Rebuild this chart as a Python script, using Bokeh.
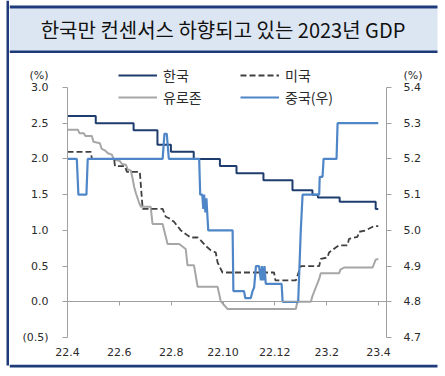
from bokeh.plotting import figure
from bokeh.layouts import row, column
from bokeh.models import (Range1d, LinearAxis, FixedTicker, CustomJSTickFormatter,
                          Legend, LegendItem, Label)
from bokeh.embed import file_html
from bokeh.resources import INLINE

# ---------------- data ----------------
title_text = "한국만 컨센서스 하향되고 있는 2023년 GDP"
unit_text = "(%)"

x_ticks = [0, 2, 4, 6, 8, 10, 12]          # months since 2022-04
x_labels = ["22.4", "22.6", "22.8", "22.10", "22.12", "23.2", "23.4"]
left_ticks = [-0.5, 0.0, 0.5, 1.0, 1.5, 2.0, 2.5, 3.0]
right_ticks = [4.7, 4.8, 4.9, 5.0, 5.1, 5.2, 5.3, 5.4]

series_names = ["한국", "미국", "유로존", "중국(우)"]

korea_x = [0, 1.09, 1.09, 2.55, 2.55, 3.47, 3.47, 3.99, 3.99, 4.87, 4.87, 5.88, 5.88,
           6.52, 6.52, 7.56, 7.56, 8.68, 8.68, 9.45, 9.45, 9.66, 9.66, 10.5, 10.5,
           11.89, 11.89, 11.99]
korea_y = [2.6, 2.6, 2.5, 2.5, 2.4, 2.4, 2.2, 2.2, 2.1, 2.1, 2.0, 2.0, 1.9,
           1.9, 1.8, 1.8, 1.7, 1.7, 1.56, 1.56, 1.5, 1.5, 1.46, 1.46, 1.4,
           1.4, 1.3, 1.3]

us_x = [0, 0.9, 0.94, 1.8, 1.83, 2.21, 2.29, 2.79, 2.9, 3.67, 3.79, 3.92, 4.11,
        4.37, 4.63, 4.76, 5.02, 5.14, 5.34, 5.53, 5.72, 5.79, 5.98, 7.97, 8.02,
        8.81, 9.0, 9.71, 9.77, 10.03, 10.09, 10.35, 10.47, 10.8, 10.86, 11.19,
        11.25, 11.51, 11.83, 11.99]
us_y = [2.1, 2.1, 2.0, 2.0, 1.9, 1.9, 1.82, 1.82, 1.3, 1.3, 1.19, 1.17, 1.12,
        1.0, 0.93, 0.9, 0.9, 0.86, 0.78, 0.72, 0.69, 0.55, 0.41, 0.41, 0.3,
        0.3, 0.5, 0.5, 0.6, 0.62, 0.69, 0.76, 0.79, 0.79, 0.88, 0.91,
        0.98, 1.0, 1.06, 1.06]

euro_x = [0, 0.4, 0.46, 0.63, 0.69, 0.94, 1.0, 1.25, 1.32, 1.44, 1.56, 1.71, 1.79,
          2.02, 2.1, 2.25, 2.33, 2.44, 2.51, 2.57, 2.64, 2.75, 2.83, 3.21, 3.28,
          3.67, 3.86, 4.31, 4.56, 4.63, 4.88, 5.02, 5.79, 5.91, 6.17, 8.81, 8.87,
          9.39, 9.45, 9.58, 9.71, 9.77, 10.48, 10.53, 10.67, 11.77, 11.89, 11.99]
euro_y = [2.41, 2.41, 2.36, 2.36, 2.32, 2.32, 2.24, 2.22, 2.14, 2.12, 2.08, 2.06, 1.99,
          1.97, 1.93, 1.92, 1.85, 1.84, 1.73, 1.61, 1.52, 1.4, 1.33, 1.33, 1.09,
          1.09, 0.81, 0.81, 0.74, 0.51, 0.51, 0.21, 0.21, 0.01, -0.1, -0.1, 0.0,
          0.0, 0.08, 0.2, 0.32, 0.4, 0.4, 0.45, 0.48, 0.48, 0.59, 0.6]

china_x = [0, 0.36, 0.42, 0.73, 0.78, 3.67, 3.74, 3.83, 3.91, 5.08, 5.12, 5.2, 5.24,
           5.27, 5.32, 5.36, 5.39, 5.43, 6.37, 6.4, 6.81, 6.86, 7.07, 7.14, 7.2,
           7.27, 7.39, 7.46, 7.5, 7.55, 7.6, 7.65, 8.26, 8.3, 8.9, 9.0, 9.07, 9.71,
           9.73, 9.84, 9.88, 10.38, 10.42, 11.99]
china_y = [5.2, 5.2, 5.1, 5.1, 5.2, 5.2, 5.27, 5.27, 5.2, 5.2, 5.1, 5.1, 5.06,
           5.1, 5.05, 5.09, 5.05, 5.0, 5.0, 4.83, 4.83, 4.81, 4.81, 4.83, 4.84,
           4.9, 4.9, 4.86, 4.9, 4.86, 4.9, 4.85, 4.85, 4.8, 4.8, 5.0, 5.1, 5.1,
           5.15, 5.15, 5.2, 5.2, 5.3, 5.3]

# ---------------- styles / layout constants (page pixels) ----------------
navy = "#1F3A7A"
box_fill = "#DCE6F2"
c_korea = "#1F3C6E"
c_us = "#404040"
c_euro = "#A6A6A6"
c_china = "#4F86C8"
axis_gray = "#A0A0A0"
txt = "#2B2B2B"
num_font = "DejaVu Sans"
kr_font = "Noto Sans CJK KR"

PAGE_W = 441
STRIP_W = 9
TITLE_H = 53
MAIN_BOTTOM = 362
PAGE_H = 372
FRAME_L, FRAME_R = 67, 386
FRAME_T, FRAME_B = 62, 337
UNIT_CAPTION_Y = 75
PX_PER_MONTH = 25.92
PX_PER_UNIT = 250 / 3.5          # left axis: -0.5..3.0 over 250 px
R_PER_L = 0.2                    # right axis units per left axis unit

def mk(w, h, **kw):
    f = figure(width=w, height=h, output_backend="svg", toolbar_location=None,
               x_axis_type=None, y_axis_type=None, **kw)
    f.frame_align = False
    f.outline_line_color = None
    f.background_fill_color = "white"
    f.border_fill_color = "white"
    return f

# ---- left navy strip ----
L = mk(STRIP_W, PAGE_H, x_range=Range1d(0, STRIP_W), y_range=Range1d(PAGE_H, 0),
       min_border=0)
L.quad(left=6, right=9, top=0, bottom=365, fill_color=navy, line_color=None)

# ---- title bar ----
T = mk(PAGE_W - STRIP_W, TITLE_H, x_range=Range1d(STRIP_W, PAGE_W),
       y_range=Range1d(TITLE_H, 0), min_border=0)
T.quad(left=STRIP_W, right=437, top=8, bottom=50.5, fill_color=box_fill, line_color=None)
T.quad(left=STRIP_W, right=437, top=5, bottom=8, fill_color=navy, line_color=None)
T.quad(left=STRIP_W, right=437, top=50, bottom=53, fill_color=navy, line_color=None)
T.add_layout(Label(x=222.5, y=29, text=title_text, text_font=kr_font,
                   text_font_size="20px", text_color="#111111",
                   text_align="center", text_baseline="middle"))

# ---- bottom navy strip ----
B = mk(PAGE_W - STRIP_W, PAGE_H - MAIN_BOTTOM, x_range=Range1d(STRIP_W, PAGE_W),
       y_range=Range1d(PAGE_H, MAIN_BOTTOM), min_border=0)
B.quad(left=STRIP_W, right=437, top=MAIN_BOTTOM, bottom=365, fill_color=navy,
       line_color=None)

# ---- main chart ----
main_h = MAIN_BOTTOM - TITLE_H
y_top = -0.5 + (FRAME_B - FRAME_T) / PX_PER_UNIT
x_end = (FRAME_R - FRAME_L) / PX_PER_MONTH
p = mk(PAGE_W - STRIP_W, main_h, x_range=Range1d(0, x_end), y_range=Range1d(-0.5, y_top),
       min_border_left=FRAME_L - STRIP_W, min_border_right=PAGE_W - FRAME_R,
       min_border_top=FRAME_T - TITLE_H, min_border_bottom=MAIN_BOTTOM - FRAME_B)
p.extra_y_ranges = {"cn": Range1d(4.7, 4.7 + (y_top + 0.5) * R_PER_L)}

unit_left = -0.5 + (FRAME_B - UNIT_CAPTION_Y) / PX_PER_UNIT
unit_right = 4.7 + (unit_left + 0.5) * R_PER_L

blank_fmt = CustomJSTickFormatter(code="return '';")
left_fmt = CustomJSTickFormatter(args=dict(u=unit_left, cap=unit_text), code="""
    if (Math.abs(tick - u) < 1e-6) return cap;
    return tick < 0 ? '(' + (-tick).toFixed(1) + ')' : tick.toFixed(1);""")
right_fmt = CustomJSTickFormatter(args=dict(u=unit_right, cap=unit_text), code="""
    if (Math.abs(tick - u) < 1e-6) return cap;
    return tick.toFixed(1);""")
x_fmt = CustomJSTickFormatter(args=dict(xt=x_ticks, xl=x_labels), code="""
    const i = xt.indexOf(tick);
    return i >= 0 ? xl[i] : '';""")

def rule_axis(tks, **kw):
    ax = LinearAxis(ticker=FixedTicker(ticks=tks), formatter=blank_fmt,
                    bounds=(tks[0], tks[-1]), **kw)
    ax.axis_line_color = axis_gray
    ax.major_tick_line_color = axis_gray
    ax.minor_tick_line_color = None
    ax.major_tick_out = 5
    ax.major_tick_in = 0
    ax.major_label_standoff = 0
    ax.major_label_text_font_size = "1px"
    return ax

def label_axis(tks, fmt, standoff, **kw):
    ax = LinearAxis(ticker=FixedTicker(ticks=tks), formatter=fmt,
                    bounds=(min(tks), max(tks)), **kw)
    ax.axis_line_color = None
    ax.major_tick_line_color = None
    ax.minor_tick_line_color = None
    ax.major_tick_out = 0
    ax.major_tick_in = 0
    ax.major_label_standoff = standoff
    ax.major_label_text_font = num_font
    ax.major_label_text_font_size = "11px"
    ax.major_label_text_color = txt
    return ax

# value axes: a rule (line + ticks) next to the frame, the numbers (and "(%)") outside it
p.add_layout(rule_axis(left_ticks), "left")
p.add_layout(label_axis(left_ticks + [unit_left], left_fmt, 14), "left")
p.add_layout(rule_axis(right_ticks, y_range_name="cn"), "right")
p.add_layout(label_axis(right_ticks + [unit_right], right_fmt, 12, y_range_name="cn"), "right")

# zero line with its tick marks
xz = LinearAxis(ticker=FixedTicker(ticks=x_ticks), fixed_location=0, formatter=blank_fmt)
xz.axis_line_color = axis_gray
xz.major_tick_line_color = axis_gray
xz.minor_tick_line_color = None
xz.major_tick_in = 4
xz.major_tick_out = 0
xz.major_label_standoff = 0
xz.major_label_text_font_size = "1px"
p.add_layout(xz, "above")

# x tick labels along the bottom
p.add_layout(label_axis(x_ticks, x_fmt, 10), "below")

# series
r_euro = p.line(euro_x, euro_y, line_color=c_euro, line_width=2)
r_us = p.line(us_x, us_y, line_color=c_us, line_width=1.8, line_dash="6 3")
r_korea = p.line(korea_x, korea_y, line_color=c_korea, line_width=2)
r_china = p.line(china_x, china_y, line_color=c_china, line_width=2.2, y_range_name="cn")

legend = Legend(items=[LegendItem(label=series_names[0], renderers=[r_korea]),
                       LegendItem(label=series_names[1], renderers=[r_us]),
                       LegendItem(label=series_names[2], renderers=[r_euro]),
                       LegendItem(label=series_names[3], renderers=[r_china])],
                location=(118 - FRAME_L, FRAME_B - 106.5), orientation="horizontal", ncols=2,
                glyph_width=39, glyph_height=20, label_height=20, label_width=75,
                label_standoff=6, spacing=2, padding=0, margin=0,
                label_text_font=kr_font, label_text_font_size="14px",
                label_text_color=txt, border_line_color=None,
                background_fill_alpha=0)
p.add_layout(legend, "center")

layout = row(L, column(T, p, B))
open("out.html", "w").write(file_html(layout, INLINE))
